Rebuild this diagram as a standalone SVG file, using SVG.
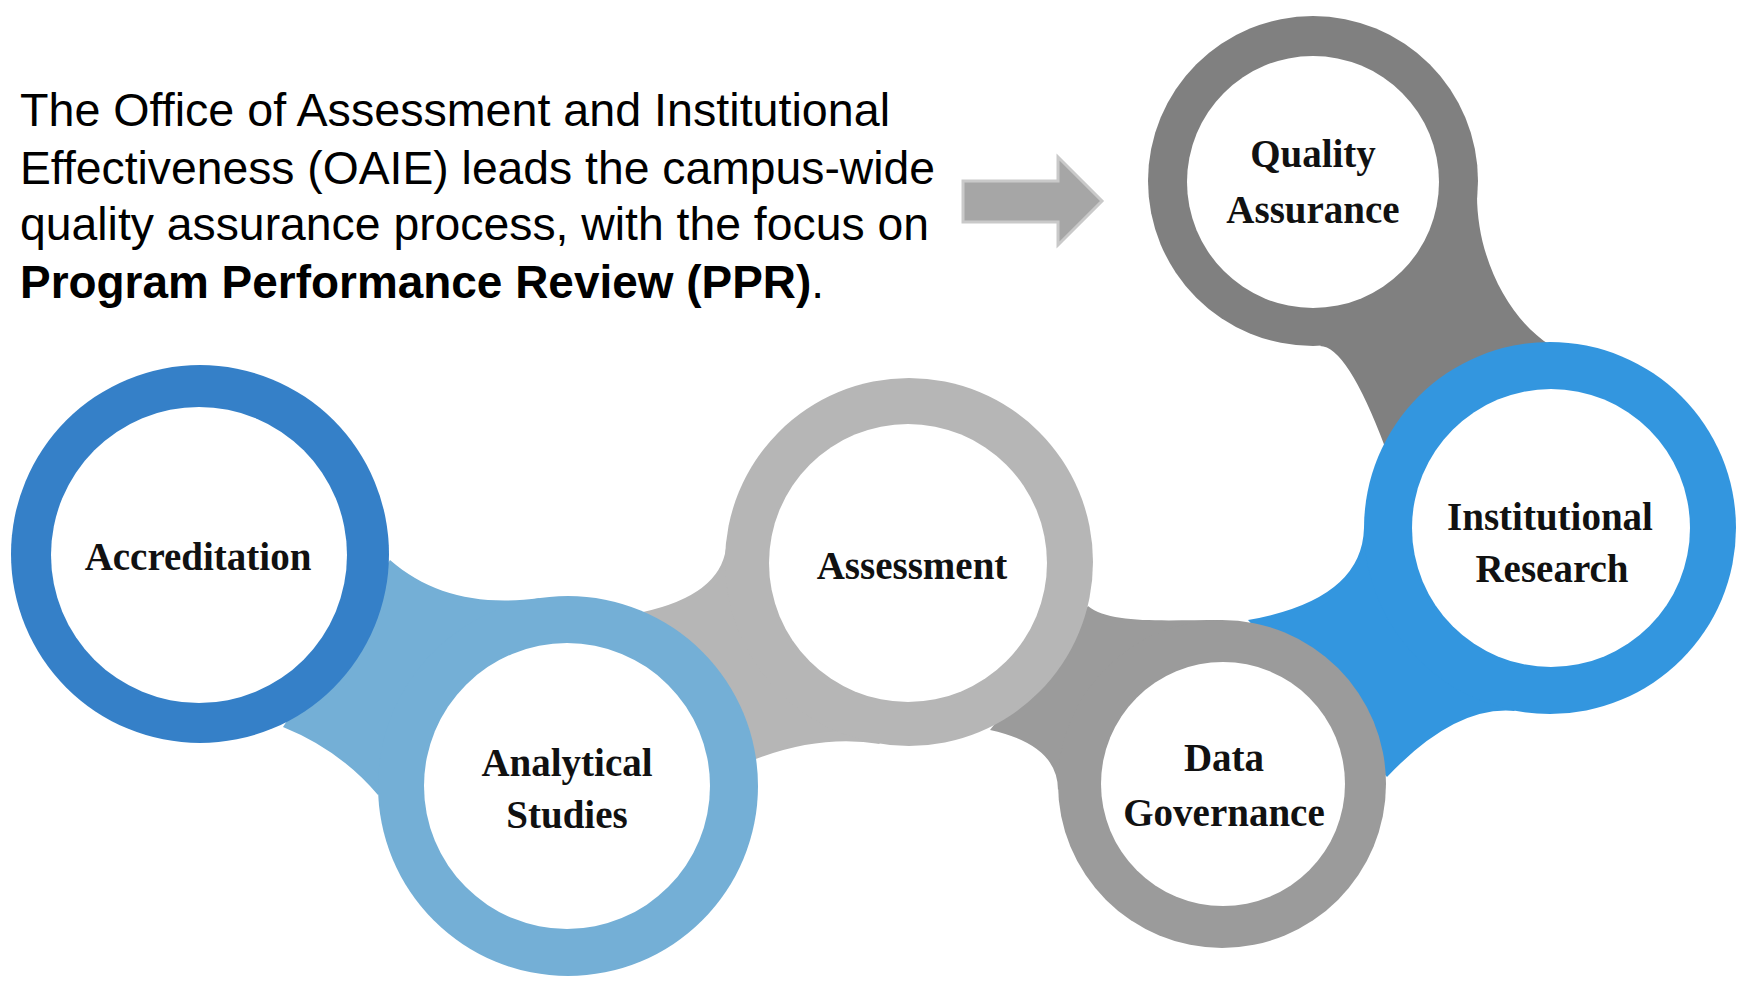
<svg xmlns="http://www.w3.org/2000/svg" width="1745" height="981" viewBox="0 0 1745 981">
<style>
.lbl{font-family:"Liberation Serif","Times New Roman",serif;font-weight:bold;font-size:39px;fill:#111;text-anchor:middle}
.body{font-family:"Liberation Sans",Arial,sans-serif;font-size:46px;fill:#000}
.inner{fill:#fff}
</style>
<rect width="1745" height="981" fill="#fff"/>
<g id="intro">
<text class="body" x="20" y="126" textLength="870" lengthAdjust="spacingAndGlyphs">The Office of Assessment and Institutional</text>
<text class="body" x="20" y="184" textLength="915" lengthAdjust="spacingAndGlyphs">Effectiveness (OAIE) leads the campus-wide</text>
<text class="body" x="20" y="240" textLength="909" lengthAdjust="spacingAndGlyphs">quality assurance process, with the focus on</text>
<text class="body" x="20" y="298" textLength="804" lengthAdjust="spacingAndGlyphs"><tspan font-weight="bold">Program Performance Review (PPR)</tspan>.</text>
</g>
<g id="connectors">
<path d="M963,181 L1058,181 L1058,157 L1102,201 L1058,245 L1058,222 L963,222 Z" fill="#A6A6A6" stroke="#C9C9C9" stroke-width="3"/>
<path d="M390,560 C430,595 480,606 540,598 L378,795 Q340,750 283,727 Z" fill="#74AFD6"/>
<path d="M643,612 Q720,595 726,548 L880,744 Q820,734 753,760 Z" fill="#B6B6B6"/>
<path d="M1088,606 C1110,624 1160,620 1222,620 L1058,790 Q1058,745 990,730 Z" fill="#9B9B9B"/>
<path d="M1248,620 Q1362,600 1364,528 L1515,711 Q1455,705 1387,777 Z" fill="#3396DF"/>
<path d="M1320,346 Q1347,346 1385,447 L1550,345 C1510,320 1477,260 1477,195 Z" fill="#808080"/>
</g>
<g id="accreditation">
<circle cx="200" cy="554" r="189" fill="#3580C8"/>
<circle class="inner" cx="199" cy="555" r="148"/>
<text class="lbl" x="198" y="570">Accreditation</text>
</g>
<g id="analytical-studies">
<circle cx="568" cy="786" r="190" fill="#74AFD6"/>
<circle class="inner" cx="567" cy="786" r="143"/>
<text class="lbl" x="567" y="776">Analytical</text>
<text class="lbl" x="567" y="828">Studies</text>
</g>
<g id="assessment">
<circle cx="909" cy="562" r="184" fill="#B6B6B6"/>
<circle class="inner" cx="908" cy="563" r="139"/>
<text class="lbl" x="912" y="579">Assessment</text>
</g>
<g id="data-governance">
<circle cx="1222" cy="784" r="164" fill="#9B9B9B"/>
<circle class="inner" cx="1223" cy="784" r="122"/>
<text class="lbl" x="1224" y="771">Data</text>
<text class="lbl" x="1224" y="826">Governance</text>
</g>
<g id="institutional-research">
<circle cx="1550" cy="528" r="186" fill="#3396DF"/>
<circle class="inner" cx="1551" cy="528" r="139"/>
<text class="lbl" x="1550" y="530">Institutional</text>
<text class="lbl" x="1552" y="582">Research</text>
</g>
<g id="quality-assurance">
<circle cx="1313" cy="181" r="165" fill="#808080"/>
<circle class="inner" cx="1313" cy="182" r="126"/>
<text class="lbl" x="1313" y="167">Quality</text>
<text class="lbl" x="1313" y="223">Assurance</text>
</g>
</svg>
